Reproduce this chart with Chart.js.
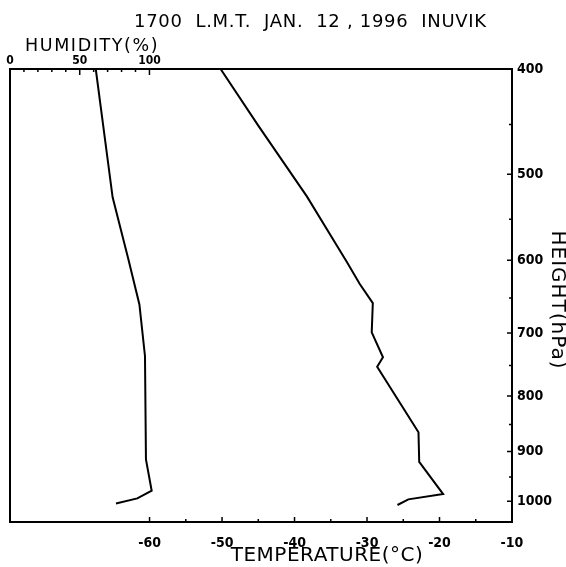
<!DOCTYPE html>
<html>
<head>
<meta charset="utf-8">
<script src="https://cdn.jsdelivr.net/npm/chart.js@4.4.1/dist/chart.umd.min.js"></script>
<style>
  html, body { margin: 0; padding: 0; background: #fff; }
  canvas { display: block; }
</style>
</head>
<body>
<canvas id="myChart" width="566" height="567"></canvas>
<script>
// temperature (deg C) at pressure levels (hPa)
var tempValues = [-50.2, -45.0, -38.3, -32.8, -31.0, -29.2, -29.35, -27.8, -28.6, -22.9, -22.8, -19.5, -24.3, -25.8];
var tempLevels = [400, 451, 524, 602, 631, 657, 699, 737, 752, 864, 920, 985, 996, 1008];

// humidity (%) at pressure levels (hPa)
var humValues = [61.5, 73.6, 84.8, 92.8, 96.8, 97.5, 101.6, 91.3, 76.0];
var humLevels = [400, 525, 598, 659, 735, 915, 978, 994, 1005];

var tempTicks = [-60, -50, -40, -30, -20, -10];
var tempMinorTicks = [-55, -45, -35, -25, -15];
var humTicks = [0, 50, 100];
var humMinorTicks = [10, 20, 30, 40, 60, 70, 80, 90];
var heightTicks = [400, 500, 600, 700, 800, 900, 1000];
var heightMinorTicks = [450, 550, 650, 750, 850, 950];

var titleText = '1700  L.M.T.  JAN.  12 , 1996  INUVIK';
var tickFont = '"DejaVu Sans Condensed", "DejaVu Sans"';

function pairs(xs, ys) {
    return xs.map(function (v, i) { return { x: v, y: ys[i] }; });
}

// frame, inward tick marks and the titles
var frameTicks = {
    id: 'frameTicks',
    afterDraw: function (chart) {
        var ctx = chart.ctx;
        var a = chart.chartArea;
        var sx = chart.scales.x, sh = chart.scales.xh, sy = chart.scales.y;
        ctx.save();
        ctx.strokeStyle = '#000';
        ctx.lineWidth = 2;
        ctx.strokeRect(a.left, a.top, a.right - a.left, a.bottom - a.top);

        ctx.lineWidth = 1.5;
        ctx.beginPath();
        tempTicks.forEach(function (v) {
            var px = sx.getPixelForValue(v);
            ctx.moveTo(px, a.bottom); ctx.lineTo(px, a.bottom - 5);
        });
        tempMinorTicks.forEach(function (v) {
            var px = sx.getPixelForValue(v);
            ctx.moveTo(px, a.bottom); ctx.lineTo(px, a.bottom - 3);
        });
        humTicks.forEach(function (v) {
            var px = sh.getPixelForValue(v);
            ctx.moveTo(px, a.top); ctx.lineTo(px, a.top + 6);
        });
        humMinorTicks.forEach(function (v) {
            var px = sh.getPixelForValue(v);
            ctx.moveTo(px, a.top); ctx.lineTo(px, a.top + 3);
        });
        heightTicks.forEach(function (v) {
            var py = sy.getPixelForValue(v);
            ctx.moveTo(a.right, py); ctx.lineTo(a.right - 5, py);
        });
        heightMinorTicks.forEach(function (v) {
            var py = sy.getPixelForValue(v);
            ctx.moveTo(a.right, py); ctx.lineTo(a.right - 3, py);
        });
        ctx.stroke();

        ctx.fillStyle = '#000';
        ctx.textBaseline = 'middle';
        ctx.font = '18px "DejaVu Sans"';
        ctx.letterSpacing = '0.7px';
        ctx.textAlign = 'left';
        ctx.fillText(titleText, 134, 22);

        ctx.font = '17.5px "DejaVu Sans"';
        ctx.letterSpacing = '1.6px';
        ctx.fillText('HUMIDITY(%)', 25, 46);

        ctx.font = '20px "DejaVu Sans"';
        ctx.letterSpacing = '0.5px';
        ctx.textAlign = 'center';
        ctx.fillText('TEMPERATURE(°C)', 327, 556);

        ctx.translate(557, 300);
        ctx.rotate(Math.PI / 2);
        ctx.font = '20px "DejaVu Sans"';
        ctx.letterSpacing = '1px';
        ctx.fillText('HEIGHT(hPa)', 0, 0);
        ctx.restore();
    }
};

const ctx = document.getElementById('myChart');

new Chart(ctx, {
    type: 'scatter',
    data: {
        datasets: [
            {
                label: 'temperature',
                data: pairs(tempValues, tempLevels),
                xAxisID: 'x',
                yAxisID: 'y',
                showLine: true,
                borderColor: '#000',
                borderWidth: 2,
                pointRadius: 0,
                tension: 0
            },
            {
                label: 'humidity',
                data: pairs(humValues, humLevels),
                xAxisID: 'xh',
                yAxisID: 'y',
                showLine: true,
                borderColor: '#000',
                borderWidth: 2,
                pointRadius: 0,
                tension: 0
            }
        ]
    },
    options: {
        responsive: false,
        animation: false,
        layout: { padding: { left: 10, right: 0, top: 0, bottom: 0 } },
        plugins: {
            legend: { display: false },
            tooltip: { enabled: false },
            title: { display: false }
        },
        scales: {
            x: {
                type: 'linear',
                position: 'bottom',
                min: -79.25,
                max: -10,
                grid: { display: false, drawTicks: false },
                border: { display: false },
                afterBuildTicks: function (s) { s.ticks = tempTicks.map(function (v) { return { value: v }; }); },
                afterFit: function (s) { s.height = 45; },
                ticks: {
                    autoSkip: false,
                    maxRotation: 0,
                    padding: 13,
                    color: '#000',
                    font: { family: tickFont, size: 14, weight: 'bold' },
                    callback: function (v) { return String(v); }
                }
            },
            xh: {
                type: 'linear',
                position: 'top',
                min: 0,
                max: 360,
                grid: { display: false, drawTicks: false },
                border: { display: false },
                afterBuildTicks: function (s) { s.ticks = humTicks.map(function (v) { return { value: v }; }); },
                afterFit: function (s) { s.height = 69; },
                ticks: {
                    autoSkip: false,
                    maxRotation: 0,
                    padding: 1,
                    color: '#000',
                    font: { family: tickFont, size: 12, weight: 'bold' },
                    callback: function (v) { return String(v); }
                }
            },
            y: {
                type: 'logarithmic',
                position: 'right',
                reverse: true,
                min: 400,
                max: 1045,
                grid: { display: false, drawTicks: false },
                border: { display: false },
                afterBuildTicks: function (s) { s.ticks = heightTicks.map(function (v) { return { value: v }; }); },
                afterFit: function (s) { s.width = 54; },
                ticks: {
                    autoSkip: false,
                    padding: 5,
                    color: '#000',
                    font: { family: tickFont, size: 14, weight: 'bold' },
                    callback: function (v) { return String(v); }
                }
            }
        }
    },
    plugins: [frameTicks]
});
</script>
</body>
</html>
